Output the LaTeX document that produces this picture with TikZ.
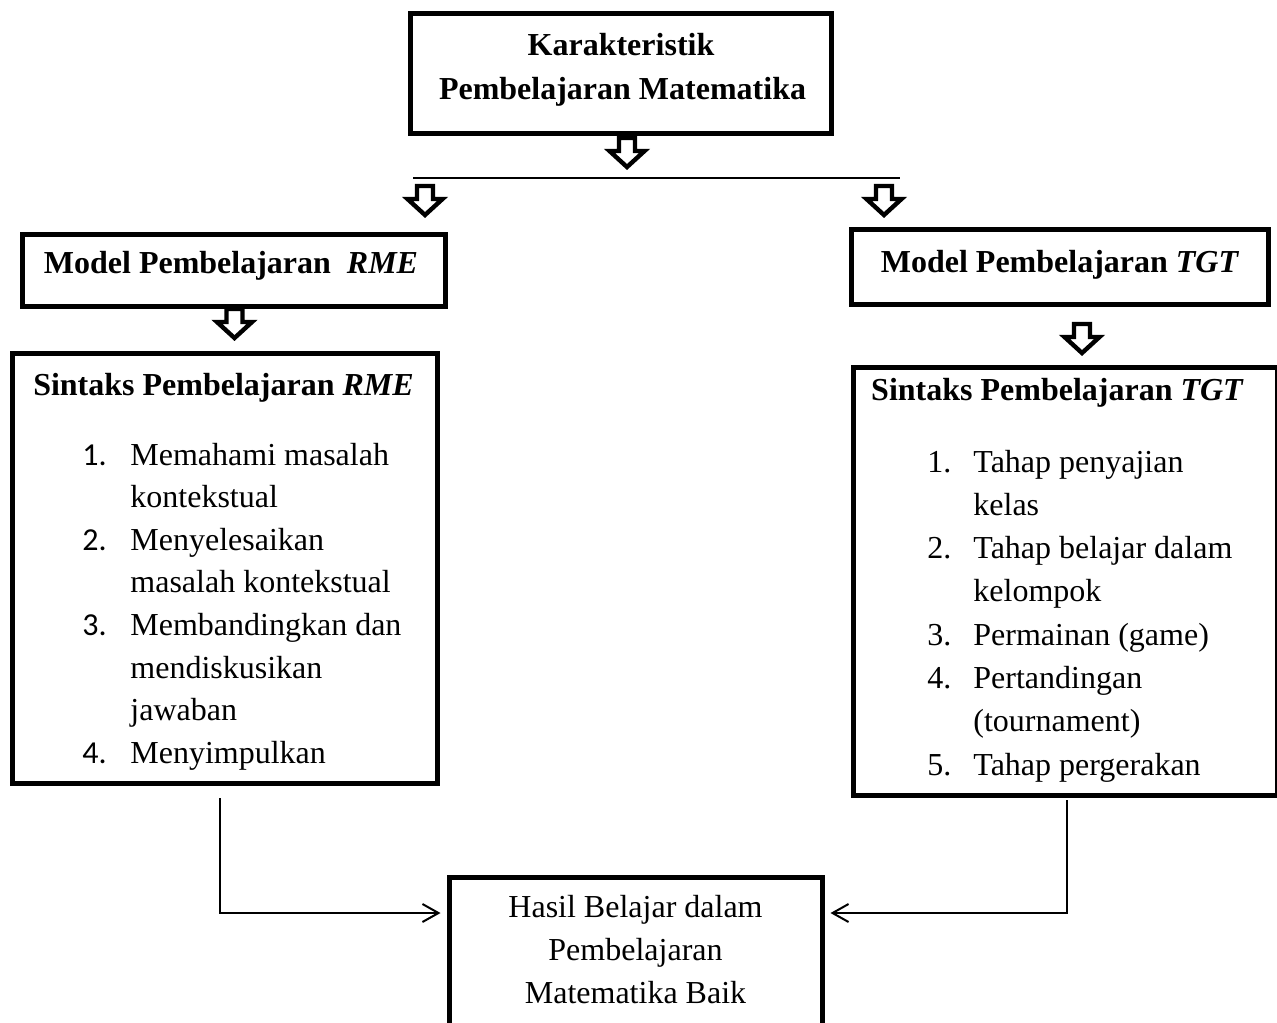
\documentclass[tikz,border=0pt]{standalone}
\usepackage{fontspec}
\setmainfont{Liberation Serif}
\newfontfamily\calibri{Carlito}
\usetikzlibrary{arrows.meta}

\tikzset{
  box/.style={draw, line width=2.5pt, inner sep=0pt},
  lbl/.style={inner sep=0pt, anchor=base},
  lblb/.style={lbl, font=\fontsize{16}{21}\selectfont\bfseries},
  conn/.style={line width=1pt, -{Straight Barb[length=8pt,width=9pt]}, shorten >=3pt},
  hollowdown/.pic={
    \draw[line width=2.2pt] (-8,0) -- (8,0) -- (8,13) -- (17.5,13) -- (0,29)
      -- (-17.5,13) -- (-8,13) -- cycle;
  }
}

\begin{document}
\begin{tikzpicture}[x=0.5pt,y=-0.5pt,font=\fontsize{16}{21}\selectfont]
\useasboundingbox (0,0) rectangle (1277,1022);

% boxes
\node[box, minimum width=210.5pt, minimum height=59.5pt] (karak) at (620.5,73.5) {};
\node[box, minimum width=211.5pt, minimum height=36pt] (rmemodel) at (233.5,270) {};
\node[box, minimum width=208.5pt, minimum height=37.5pt] (tgtmodel) at (1059.5,266.5) {};
\node[box, minimum width=212.25pt, minimum height=215pt] (rmesyn) at (224.75,568) {};
\node[box, minimum width=212pt, minimum height=214pt] (tgtsyn) at (1065,581) {};
\node[box, minimum width=186.5pt, minimum height=81.5pt] (hasil) at (635.5,958.5) {};

% box texts
\node[lblb] (karak1) at (621,56) {Karakteristik};
\node[lblb] (karak2) at (622.5,99) {Pembelajaran Matematika};
\node[lblb] (rmemodeltext) at (231,273) {Model Pembelajaran\ \ \textit{RME}};
\node[lblb] (tgtmodeltext) at (1060,272) {Model Pembelajaran \textit{TGT}};
\node[lblb] (rmesyntitle) at (223.5,395) {Sintaks Pembelajaran \textit{RME}};
\node[lblb] (tgtsyntitle) at (1057.5,400) {Sintaks Pembelajaran \textit{TGT}};
\node[lbl] (hasil1) at (635.5,917) {Hasil Belajar dalam};
\node[lbl] (hasil2) at (635.5,960) {Pembelajaran};
\node[lbl] (hasil3) at (635.5,1003) {Matematika Baik};

% steps RME
\foreach \n/\t [count=\i from 0] in {1./Memahami masalah, {}/kontekstual,
    2./Menyelesaikan, {}/masalah kontekstual, 3./Membandingkan dan,
    {}/mendiskusikan, {}/jawaban, 4./Menyimpulkan}{
  \node[lbl, anchor=base west] (rmenum\i) at (82,465+42.6*\i) {\calibri\n};
  \node[lbl, anchor=base west] (rmeitem\i) at (130,465+42.6*\i) {\t};
}

% steps TGT
\foreach \n/\t [count=\i from 0] in {1./Tahap penyajian, {}/kelas,
    2./Tahap belajar dalam, {}/kelompok, 3./{Permainan (game)},
    4./Pertandingan, {}/(tournament), 5./Tahap pergerakan}{
  \node[lbl, anchor=base west] (tgtnum\i) at (927,472+43.3*\i) {\n};
  \node[lbl, anchor=base west] (tgtitem\i) at (973,472+43.3*\i) {\t};
}

% hollow arrows
\pic at (627,138) {hollowdown};
\pic at (425,186) {hollowdown};
\pic at (884,186) {hollowdown};
\pic at (234.5,309) {hollowdown};
\pic at (1082,324) {hollowdown};

\coordinate (splitl) at (413,178);
\coordinate (splitr) at (900,178);
\draw[line width=1pt] (splitl) -- (splitr);

% to the result
\coordinate (rmeend) at (220,798);
\coordinate (rmefoot) at (220,913);
\coordinate (tgtend) at (1067,800);
\coordinate (tgtfoot) at (1067,913);
\draw[conn] (rmeend) -- (rmefoot) -- (rmefoot -| hasil.west);
\draw[conn] (tgtend) -- (tgtfoot) -- (tgtfoot -| hasil.east);

\end{tikzpicture}
\end{document}
